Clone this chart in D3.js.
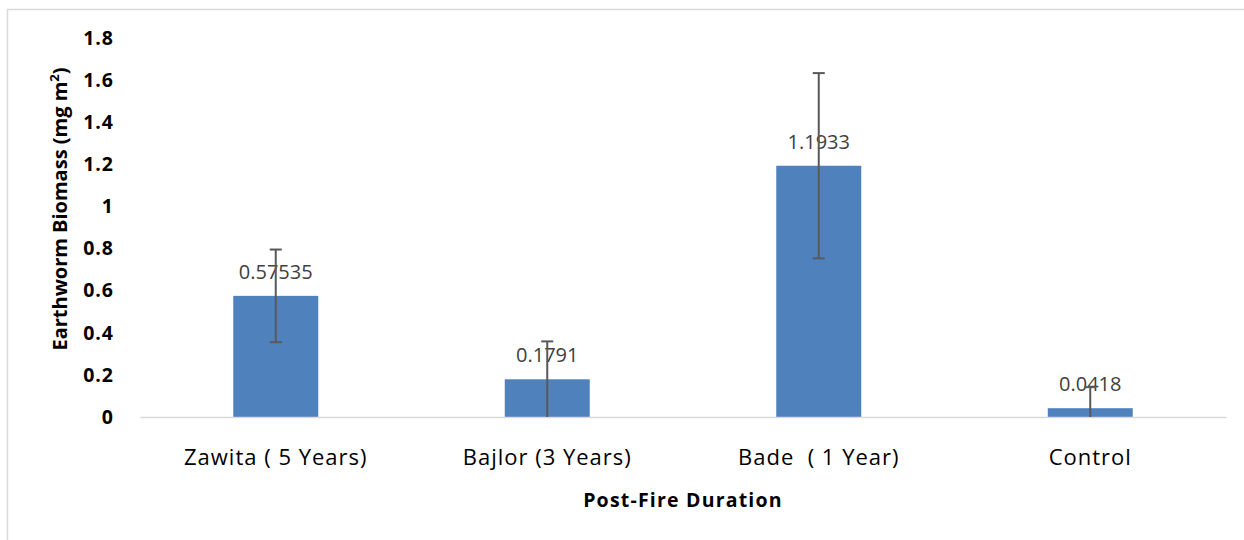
<!DOCTYPE html>
<html>
<head>
<meta charset="utf-8">
<script src="https://cdn.jsdelivr.net/npm/d3@7/dist/d3.min.js"></script>
<style>
  body { margin: 0; background: #fff; }
  svg { display: block; font-family: "Open Sans", sans-serif; }
</style>
</head>
<body>
<div id="root"></div>
<script>
// chart values
const sites = ["Zawita ( 5 Years)", "Bajlor (3 Years)", "Bade  ( 1 Year)", "Control"];
const biomass = [0.57535, 0.1791, 1.1933, 0.0418];
const labels = ["0.57535", "0.1791", "1.1933", "0.0418"];
const errors = [0.22, 0.18, 0.44, 0.10];
const yTicks = [0, 0.2, 0.4, 0.6, 0.8, 1, 1.2, 1.4, 1.6, 1.8];

const W = 1244, H = 540;
const margin = { top: 38, right: 18, bottom: 123, left: 140 };
const width = W - margin.left - margin.right;
const height = H - margin.top - margin.bottom;

const svg = d3.select("#root").append("svg")
  .attr("width", W)
  .attr("height", H);

// outer chart border
svg.append("rect")
  .attr("x", 7.5).attr("y", 9.5)
  .attr("width", W).attr("height", H)
  .attr("fill", "none")
  .attr("stroke", "#d9d9d9")
  .attr("stroke-width", 1.5);

const g = svg.append("g")
  .attr("transform", "translate(" + margin.left + "," + margin.top + ")");

const x = d3.scaleBand()
  .domain(sites)
  .range([0, width])
  .paddingInner(0.687)
  .paddingOuter(0.3435);

const y = d3.scaleLinear()
  .domain([0, 1.8])
  .range([height, 0]);

const rows = sites.map((s, i) => ({ site: s, v: biomass[i], e: errors[i], lab: labels[i] }));

// y axis labels (no line)
const yAxis = g.append("g")
  .call(d3.axisLeft(y).tickValues(yTicks).tickFormat(d3.format("~g")).tickSize(0).tickPadding(26));
yAxis.select(".domain").remove();
yAxis.selectAll("text")
  .attr("font-size", 19.5)
  .attr("font-weight", "bold")
  .attr("letter-spacing", 1)
  .attr("font-family", "'Open Sans', sans-serif")
  .attr("fill", "#000");

// bars
g.selectAll(".bar")
  .data(rows)
  .enter()
  .append("rect")
  .attr("class", "bar")
  .attr("x", d => x(d.site))
  .attr("y", d => y(d.v))
  .attr("width", x.bandwidth())
  .attr("height", d => height - y(d.v))
  .attr("fill", "#4f81bd");

// x axis
const xAxis = g.append("g")
  .attr("transform", "translate(0," + height + ")")
  .call(d3.axisBottom(x).tickSize(0).tickPadding(32));
xAxis.select(".domain")
  .attr("stroke", "#d9d9d9")
  .attr("stroke-width", 1.5);
xAxis.selectAll("text")
  .attr("font-size", 22)
  .attr("letter-spacing", 1)
  .attr("font-family", "'Open Sans', sans-serif")
  .attr("fill", "#000")
  .style("white-space", "pre");

// data labels
g.selectAll(".lab")
  .data(rows)
  .enter()
  .append("text")
  .attr("class", "lab")
  .attr("x", d => x(d.site) + x.bandwidth() / 2)
  .attr("y", d => y(d.v) - 17)
  .attr("text-anchor", "middle")
  .attr("font-size", 20)
  .attr("fill", "#404040")
  .text(d => d.lab);

// error bars
const eb = g.selectAll(".err")
  .data(rows)
  .enter()
  .append("g")
  .attr("class", "err")
  .attr("stroke", "#595959")
  .attr("stroke-width", 2);

const cx = d => x(d.site) + x.bandwidth() / 2;
eb.append("line")
  .attr("x1", cx).attr("x2", cx)
  .attr("y1", d => y(d.v + d.e))
  .attr("y2", d => y(Math.max(0, d.v - d.e)));
eb.append("line")
  .attr("x1", d => cx(d) - 6).attr("x2", d => cx(d) + 6)
  .attr("y1", d => y(d.v + d.e))
  .attr("y2", d => y(d.v + d.e));
eb.filter(d => d.v - d.e > 0).append("line")
  .attr("x1", d => cx(d) - 6).attr("x2", d => cx(d) + 6)
  .attr("y1", d => y(d.v - d.e))
  .attr("y2", d => y(d.v - d.e));

// axis titles
svg.append("text")
  .attr("x", margin.left + width / 2)
  .attr("y", 507)
  .attr("text-anchor", "middle")
  .attr("font-size", 19.5)
  .attr("font-weight", "bold")
  .attr("letter-spacing", 1.2)
  .text("Post-Fire Duration");

const yt = svg.append("text")
  .attr("transform", "translate(67," + 209 + ") rotate(-90)")
  .attr("text-anchor", "middle")
  .attr("font-size", 20)
  .attr("font-weight", "bold");
yt.append("tspan").text("Earthworm Biomass (mg m");
yt.append("tspan").attr("font-size", 13).attr("dy", -8).text("2");
yt.append("tspan").attr("dy", 8).text(")");
</script>
</body>
</html>
